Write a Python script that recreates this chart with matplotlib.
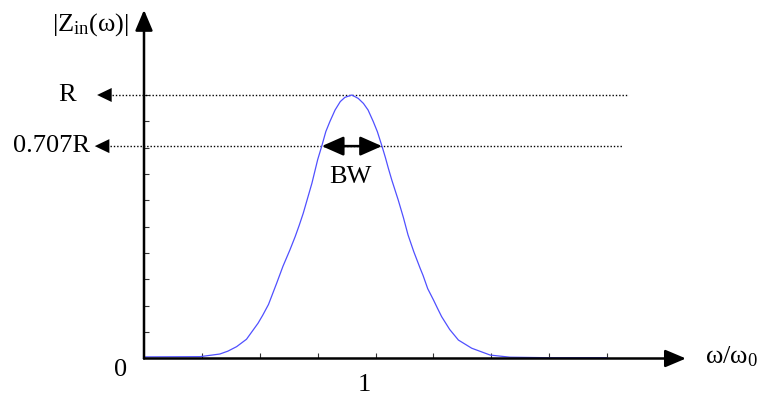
import matplotlib
matplotlib.use('Agg')
import matplotlib.pyplot as plt
from matplotlib.patches import FancyArrowPatch

plt.rcParams['font.family'] = ['Liberation Serif', 'DejaVu Serif']
plt.rcParams['mathtext.fontset'] = 'custom'
plt.rcParams['mathtext.rm'] = 'Liberation Serif'
plt.rcParams['mathtext.it'] = 'Liberation Serif'

# resonance curve |Zin| vs normalised frequency (plot units: R = 10 tick steps)
freq = [0.00, 0.97, 1.31, 1.45, 1.60, 1.77, 1.97, 2.05, 2.15, 2.29, 2.40, 2.52,
        2.61, 2.68, 2.75, 2.90, 2.95, 3.00, 3.07, 3.14, 3.21, 3.30, 3.39, 3.47,
        3.59, 3.70, 3.79, 3.87, 3.96, 4.03, 4.11, 4.17, 4.22, 4.28, 4.39, 4.48,
        4.56, 4.66, 4.77, 4.82, 4.90, 5.00, 5.07, 5.14, 5.28, 5.43, 5.66, 5.98,
        6.32, 6.96, 8.00]
zin = [0.06, 0.07, 0.17, 0.28, 0.45, 0.73, 1.34, 1.64, 2.05, 2.85, 3.50, 4.12,
       4.62, 5.05, 5.51, 6.65, 7.10, 7.55, 8.06, 8.61, 8.99, 9.43, 9.75, 9.91,
       10.00, 9.87, 9.68, 9.43, 8.99, 8.61, 8.06, 7.62, 7.22, 6.77, 6.02, 5.35,
       4.69, 4.05, 3.42, 3.15, 2.65, 2.22, 1.90, 1.59, 1.10, 0.70, 0.39, 0.13,
       0.05, 0.03, 0.03]

x_ticks = [1, 2, 3, 4, 5, 6, 7, 8]
y_ticks = [1, 2, 3, 4, 5, 6, 7, 8, 9, 10]

r_level = 10.0
half_power_level = 8.06
bw_edges = (3.07, 4.11)

fig = plt.figure(figsize=(7.6, 4.0), dpi=100)
ax = fig.add_axes([0, 0, 1, 1])
ax.set_xlim(-2.487, 10.639)
ax.set_ylim(-1.575, 13.605)
ax.patch.set_alpha(0)

for side in ['top', 'right', 'left', 'bottom']:
    ax.spines[side].set_visible(False)
ax.spines['left'].set_position(('data', 0))
ax.spines['bottom'].set_position(('data', 0))
ax.set_xticks(x_ticks)
ax.set_yticks(y_ticks)
ax.set_xticklabels([])
ax.set_yticklabels([])
ax.tick_params(direction='in', length=3.5, width=0.8, color='#333333')


def arrow(p0, p1, style='-|>', lw=1.6, hl=0.9, hw=0.38, scale=14):
    a = FancyArrowPatch(p0, p1, arrowstyle=f'{style},head_length={hl},head_width={hw}',
                        mutation_scale=scale, lw=lw, color='black',
                        shrinkA=0, shrinkB=0, zorder=5)
    ax.add_patch(a)


# axes with arrow heads
arrow((0, 0), (9.36, 0), lw=1.8)
arrow((0, 0), (0, 13.23), lw=1.8)

# the curve
ax.plot(freq, zin, color='#5050ff', lw=0.9, zorder=3, solid_joinstyle='round')

# reference levels
dots = (0, (1, 1.4))
ax.plot([-0.55, 8.34], [r_level, r_level], color='black', lw=1.0, linestyle=dots)
ax.plot([-0.59, 8.26], [half_power_level, half_power_level], color='black', lw=1.0,
        linestyle=dots)
arrow((-0.55, r_level), (-0.81, r_level), lw=0, hl=0.75, hw=0.36)
arrow((-0.59, half_power_level), (-0.85, half_power_level), lw=0, hl=0.75, hw=0.36)

# bandwidth arrow
arrow((bw_edges[0], half_power_level), (bw_edges[1], half_power_level),
      style='<|-|>', lw=1.8, hl=0.95, hw=0.42)

fs = 19
ax.text(-1.33, r_level, 'R', fontsize=fs, ha='center', va='center')
ax.text(-0.93, half_power_level, '0.707R', fontsize=fs, ha='right', va='center')
ax.text(-0.93, 12.66, r'$|\mathrm{Z}_{\mathrm{in}}(\omega)|$', fontsize=fs,
        ha='center', va='center')
ax.text(-0.40, -0.44, '0', fontsize=fs, ha='center', va='center')
ax.text(3.80, -1.0, '1', fontsize=fs, ha='center', va='center')
ax.text(3.56, 6.89, 'BW', fontsize=fs, ha='center', va='center')
ax.text(9.69, 0.06, r'$\omega/\omega_0$', fontsize=fs, ha='left', va='center')

fig.savefig('out.png', dpi=100)
